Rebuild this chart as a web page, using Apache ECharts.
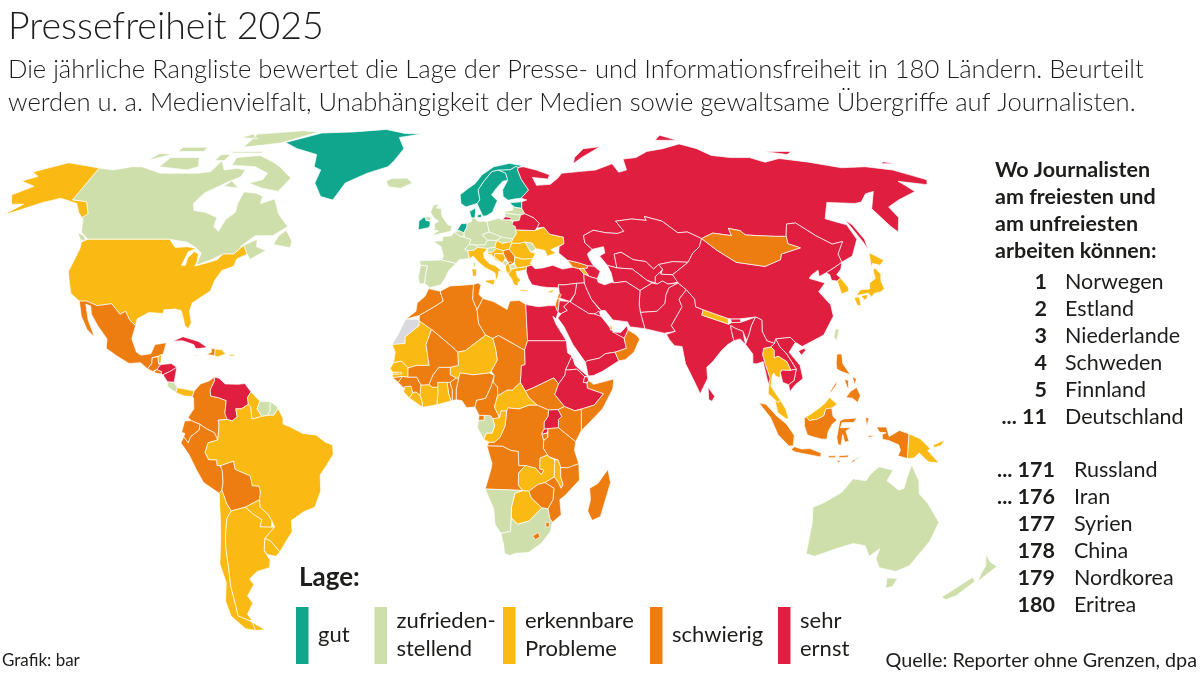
<!DOCTYPE html>
<html lang="de">
<head>
<meta charset="utf-8">
<title>Pressefreiheit 2025</title>
<script src="https://cdn.jsdelivr.net/npm/echarts@6/dist/echarts.min.js"></script>
<style>
  html, body { margin: 0; background: #fff; }
  #chart { width: 1200px; height: 675px; }
</style>
</head>
<body>
<div id="chart"></div>
<script>
// Kategorien
const legendLabels = ['gut', 'zufrieden-\nstellend', 'erkennbare\nProbleme', 'schwierig', 'sehr\nernst'];
const legendColors = ['#10a68d', '#cfdfab', '#fbb913', '#ee7d11', '#e01f40'];
const noDataColor = '#d9d9df';

// Länder je Kategorie
const gut = ['Greenland', 'Ireland', 'Norway', 'Sweden', 'Finland', 'Estonia', 'Netherlands', 'Denmark'];
const zufriedenstellend = ['Canada', 'Iceland', 'UK', 'France', 'Spain', 'Portugal', 'Belgium', 'Germany', 'Switzerland', 'Austria',
  'Poland', 'Czechia', 'Slovakia', 'Slovenia', 'Latvia', 'Lithuania', 'Moldova', 'Montenegro', 'NorthMacedonia',
  'CostaRica', 'Jamaica', 'Suriname', 'FrenchGuiana', 'Gabon', 'Namibia', 'SouthAfrica', 'Taiwan', 'TimorLeste',
  'Australia', 'NewZealand'];
const erkennbareProbleme = ['USA', 'Belize', 'Panama', 'DominicanRepublic', 'Guyana', 'Brazil', 'Paraguay', 'Uruguay',
  'Argentina', 'Chile', 'Italy', 'Croatia', 'Hungary', 'Bosnia', 'Albania', 'Greece', 'Bulgaria', 'Romania', 'Ukraine',
  'Armenia', 'Cyprus', 'Mauritania', 'Niger', 'Senegal', 'Gambia', 'SierraLeone', 'Liberia', 'IvoryCoast', 'Ghana',
  'Congo', 'CentralAfrica', 'Zambia', 'Malawi', 'Botswana', 'Nepal', 'Thailand', 'Malaysia', 'Japan', 'SouthKorea',
  'PapuaNewGuinea', 'Qatar'];
const schwierig = ['Mexico', 'Guatemala', 'ElSalvador', 'Haiti', 'Colombia', 'Ecuador', 'Peru', 'Bolivia', 'Serbia', 'Kosovo',
  'Georgia', 'Morocco', 'Algeria', 'Tunisia', 'Libya', 'Mali', 'Chad', 'SouthSudan', 'Somalia', 'Kenya', 'Burundi',
  'Tanzania', 'DRCongo', 'EquatorialGuinea', 'Cameroon', 'Nigeria', 'Benin', 'Togo', 'BurkinaFaso', 'Guinea',
  'GuineaBissau', 'Angola', 'Mozambique', 'Zimbabwe', 'Lesotho', 'Eswatini', 'Madagascar', 'Mongolia', 'Indonesia',
  'Philippines', 'Oman', 'Israel', 'Lebanon'];
const sehrErnst = ['Russia', 'Belarus', 'Turkey', 'Azerbaijan', 'Kazakhstan', 'Uzbekistan', 'Turkmenistan', 'Kyrgyzstan',
  'Tajikistan', 'Afghanistan', 'Pakistan', 'Iran', 'Iraq', 'Syria', 'Jordan', 'SaudiArabia', 'Yemen', 'UAE', 'Kuwait',
  'India', 'Bhutan', 'Bangladesh', 'SriLanka', 'China', 'NorthKorea', 'Vietnam', 'Laos', 'Cambodia', 'Myanmar',
  'Egypt', 'Sudan', 'Eritrea', 'Ethiopia', 'Djibouti', 'Uganda', 'Rwanda', 'Honduras', 'Nicaragua', 'Cuba', 'Venezuela'];
const keineDaten = ['WesternSahara'];

// Rangliste rechts
const listHeading = ['Wo Journalisten', 'am freiesten und', 'am unfreiesten', 'arbeiten können:'];
const topRanks = ['1', '2', '3', '4', '5', '... 11'];
const topNames = ['Norwegen', 'Estland', 'Niederlande', 'Schweden', 'Finnland', 'Deutschland'];
const bottomRanks = ['... 171', '... 176', '177', '178', '179', '180'];
const bottomNames = ['Russland', 'Iran', 'Syrien', 'China', 'Nordkorea', 'Eritrea'];

// Umrisse: Längengrad, Breitengrad (grob vereinfacht)
const shapes = {
  Greenland: [[-73,78.2,-60,82,-45,82.5,-30,83.6,-20,81.8,-12,81.5,-22,80,-19,76,-22,72,-24,70,-32,68,-40,65,-43,60,-48,61,-52,65,-51,69,-54,70,-56,74,-66,76]],
  Canada: [[-141,69.6,-135,69,-128,70,-124,70,-115,68,-108,68,-100,68,-95,68.5,-94,72,-90,69,-85,69.5,-81.5,69,-82,67,-87,65,-93,62,-94.5,59,-92.5,57,-88,56.5,-82.5,55,-82,52.5,-79.5,51.2,-79,54.5,-77,56.5,-78,59,-78,62.4,-73,62,-70,61,-69.5,59,-65,60.3,-61,56,-56,52.5,-60,50,-66,50,-70,47,-65,49,-64.5,47,-61,46,-65.5,43.6,-67,45,-69,47.3,-71.5,45,-75,45,-79,43.3,-83,42,-82.5,45.3,-84.5,46.5,-88.5,48.2,-95,49,-123,49,-127,51,-130,54.5,-133,56,-130,56,-135,59.5,-141,60],
    [-80,73.7,-72,71.5,-68,70,-62,66.5,-65,62.5,-72,63.5,-78,65,-73,66,-72,68,-78,70,-88,70.5,-89,73],
    [-117,70,-105,69,-101,70,-105,73,-117,73],[-90,76.5,-75,78,-62,82.5,-70,83,-90,81.5],[-125,72,-118,74.2,-124,74.3],
    [-96,75,-80,75,-80,74.5,-92,74.5],[-59,47.6,-53,46.7,-53,48.5,-56,51.5,-58,50],[-128,50.8,-125,50,-123.5,48.5,-125.5,48.9],
    [-117,75,-106,75,-106,76.5,-117,76.5],[-95,80,-87,79.5,-92,81.5],[-87,64,-81,63.5,-85,65.7],[-97,72,-93,72,-93,74,-97,74]],
  USA: [[-123,49,-95,49,-92,46.8,-88,47,-84.7,46.5,-87,45.6,-87.8,42,-86.5,42,-86.5,44,-85,45.7,-83.3,45,-83,43,-83.3,41.8,-79,42.8,-76.5,43.5,-75,45,-71.5,45,-69,47.3,-67,45,-70,43.7,-70.5,41.7,-74,40.6,-75.5,38,-76,35.2,-78,33.9,-81,32,-81.3,29.8,-80,26.8,-80.5,25.2,-81.8,26,-82.8,28,-84,30,-86,30.4,-89.5,30.2,-89.5,29.2,-94,29.5,-97.2,27.8,-97.2,26,-99.5,27.5,-101.5,29.8,-103,29,-106.5,31.8,-111,31.3,-114.8,32.5,-117.1,32.5,-120.5,34.5,-122.5,37.5,-124.3,40.3,-124,46.5,-124.7,48.3],
    [-141,69.6,-141,60,-135,59.5,-130,56,-131,55,-134,56.5,-138,59,-146,60.5,-151,59.3,-153,58.5,-158,56.5,-164,54.7,-160,56,-157.5,58.8,-162,58.8,-166,61.5,-161,64,-168,65.6,-163,67,-166.5,68.4,-156.5,71.3,-148,70.4],
    [-164,54.7,-176,51.6,-176,52,-164,55.2],[-67.2,18.4,-65.7,18.4,-65.7,18,-67.2,18]],
  Mexico: [[-117.1,32.5,-114.8,32.5,-111,31.3,-106.5,31.8,-103,29,-101.5,29.8,-99.5,27.5,-97.2,26,-97.8,22.5,-96,19,-94.5,18.2,-91.5,18.6,-90.5,21,-87,21.5,-87.7,18.5,-89,18,-89.2,17.8,-91,17.5,-91,16,-92.2,14.6,-94.5,16.2,-98,16,-102,18,-105.5,20,-105.5,22.5,-109,26,-112,29,-113,31.2,-114.7,31.7,-112.5,27.5,-110,24,-109.5,23,-112,25,-115,28.5]],
  Guatemala: [[-92.2,14.6,-91,16,-91,17.5,-89.2,17.8,-88.9,15.9,-88.2,15.7,-89.3,14.4,-90.5,13.9]],
  Belize: [[-89.2,17.8,-89,18,-88.2,18.4,-88.2,16.2,-88.9,15.9]],
  ElSalvador: [[-90.1,13.8,-89.3,14.4,-87.8,13.9,-87.8,13.2,-89.5,13.4]],
  Honduras: [[-89.3,14.4,-88.2,15.7,-85,16,-83.2,15,-85,14,-87.3,13,-87.8,13.2,-87.8,13.9]],
  Nicaragua: [[-87.3,13,-85,14,-83.2,15,-83.7,11,-85.7,11.1]],
  CostaRica: [[-85.7,11.1,-83.7,11,-82.6,9.6,-83,8.3,-85.7,9.9]],
  Panama: [[-83,8.3,-82.6,9.6,-80,9.2,-77.4,8.7,-77.9,7.3,-80.4,7.4,-81.5,7.8]],
  Cuba: [[-85,21.9,-82,23.1,-77,21.8,-74.2,20.2,-77.7,19.9,-78.5,21,-82,22]],
  Haiti: [[-74.4,18.4,-71.8,18.1,-71.7,19.8,-73,20,-72.8,19]],
  DominicanRepublic: [[-71.8,18.1,-71,17.7,-68.4,18.5,-69.8,19.7,-71.7,19.8]],
  Jamaica: [[-78.3,18.4,-76.3,18,-77,17.9,-78.3,18.2]],
  Colombia: [[-77.4,8.7,-75.6,10.6,-73,11.4,-71.5,12.4,-71.3,11.5,-72.5,9,-72.3,7.4,-70,7,-67.5,6.2,-67.8,2.8,-67,1.2,-69.8,1,-69.5,-0.5,-70,-4.2,-71,-2.3,-73.5,-1.2,-75.3,-0.1,-78,0.9,-79,1.7,-77.3,4,-77.5,6.8,-77.9,7.3]],
  Venezuela: [[-71.3,11.5,-71.5,12.4,-70,12.1,-68,10.6,-64,10.5,-62,10.7,-60,8.5,-61,7,-60.7,5.2,-62.8,4,-64.5,4,-64,1.9,-65.5,0.8,-67,1.2,-67.8,2.8,-67.5,6.2,-70,7,-72.3,7.4,-72.5,9]],
  Guyana: [[-60,8.5,-57.2,6,-58,4,-56.5,2,-59.5,1.3,-60,4.5,-60.7,5.2,-61,7]],
  Suriname: [[-57.2,6,-54,5.9,-54,3.6,-54.7,2.3,-56.5,2,-58,4]],
  FrenchGuiana: [[-54,5.9,-52,4.7,-51.6,4.1,-52.8,2.3,-54.7,2.3,-54,3.6]],
  Ecuador: [[-78,0.9,-75.3,-0.1,-75.6,-1.6,-78.3,-3.4,-79,-5,-80.4,-3.4,-80,-2.5,-81,-2.2,-80,0.8]],
  Peru: [[-80.4,-3.4,-79,-5,-78.3,-3.4,-75.6,-1.6,-75.3,-0.1,-73.5,-1.2,-71,-2.3,-70,-4.2,-73,-5,-74,-7.5,-73,-9.4,-70.5,-9.5,-70.5,-11,-69.5,-11,-69,-12.5,-69,-15.5,-69.5,-17.5,-70.4,-18.3,-75,-15.5,-77,-12,-79,-8,-81.3,-5]],
  Bolivia: [[-69.5,-11,-65.4,-9.8,-65,-12,-60.5,-13.7,-60,-16.3,-58,-16.4,-57.6,-18,-58,-20,-62.6,-22,-67,-23,-68.3,-21,-69,-19,-69.5,-17.5,-69,-15.5,-69,-12.5]],
  Paraguay: [[-58,-20,-57.9,-22,-55.5,-24,-54.6,-25.6,-55,-27.3,-58.6,-27.2,-57.7,-25.3,-60,-24,-62.6,-22]],
  Uruguay: [[-58.4,-33.5,-57.6,-30.2,-56,-30.8,-53.4,-33.8,-54.9,-35,-57.5,-34.5]],
  Brazil: [[-51.6,4.1,-50,1.5,-50,0,-48,-0.7,-44,-2.5,-40,-2.9,-37,-4.9,-35,-5.5,-34.8,-8,-37,-11,-39,-13.5,-39,-17.7,-41,-22,-44.5,-23.2,-48.5,-25.5,-48.7,-28.5,-51,-31,-53.4,-33.8,-56,-30.8,-57.6,-30.2,-54,-27.2,-54.6,-25.6,-55.5,-24,-57.9,-22,-58,-20,-57.6,-18,-58,-16.4,-60,-16.3,-60.5,-13.7,-65,-12,-65.4,-9.8,-69.5,-11,-70.5,-11,-70.5,-9.5,-73,-9.4,-74,-7.5,-73,-5,-70,-4.2,-69.5,-0.5,-69.8,1,-67,1.2,-65.5,0.8,-64,1.9,-64.5,4,-62.8,4,-60.7,5.2,-60,4.5,-59.5,1.3,-56.5,2,-54.7,2.3,-52.8,2.3]],
  Chile: [[-70.4,-18.3,-69.5,-17.5,-69,-19,-68.3,-21,-67,-23,-68.5,-25,-70,-30,-70.5,-33,-71,-38,-71.8,-43,-72,-48,-72.5,-51,-69.5,-52.2,-68.6,-52.7,-68.6,-55,-72,-54.5,-75,-51,-75,-47,-73,-42,-73.5,-37,-71.5,-30,-70.5,-25]],
  Argentina: [[-67,-23,-62.6,-22,-60,-24,-57.7,-25.3,-58.6,-27.2,-55,-27.3,-54,-27.2,-57.6,-30.2,-58.4,-33.5,-57,-36,-57.7,-38,-62,-39,-65,-41,-64,-42.5,-67,-45.5,-66,-47.5,-69,-50.5,-68.4,-52.2,-69.5,-52.2,-72.5,-51,-72,-48,-71.8,-43,-71,-38,-70.5,-33,-70,-30,-68.5,-25],[-68.6,-52.7,-65.2,-54.8,-68.6,-55]],
  Iceland: [[-24,65.5,-22,66.4,-16,66.5,-13.6,65,-18,63.4,-22.7,63.9]],
  Ireland: [[-10,54,-8.5,55,-7.3,55.2,-7.5,54.2,-6,54,-6,52.8,-6.5,52.2,-10,51.6]],
  UK: [[-5.5,50,-3.5,50.3,1.3,51.2,1.7,52.7,0.3,53,-1.5,55,-2,56,-2,57.6,-4,57.7,-3,58.6,-5,58.6,-6,56.5,-4.8,55,-3,54,-4.5,53.3,-4.3,52,-5.2,51.7,-3,51.3],[-8,55.2,-6,55.2,-5.6,54.5,-6.5,54.1,-7.5,54.4]],
  France: [[2.5,51,1.5,50,-1.5,49.7,-1.5,48.6,-4.7,48.5,-2,47,-1.2,44.5,-1.8,43.4,3,42.5,4,43.5,7.5,43.8,7,45.9,6,46.3,7.6,47.6,8.2,49,6,49.5,4.2,50],[8.6,42.5,9.5,43,9.4,41.5,8.8,41.6]],
  Spain: [[-9.2,43.2,-1.8,43.4,3,42.5,0.5,40.5,-0.3,39,-2,36.8,-5.5,36,-7.3,37.2,-7,39.6,-6.5,41.8,-8.7,42]],
  Portugal: [[-8.7,42,-6.5,41.8,-7,39.6,-7.3,37.2,-8.9,37,-9.4,38.8]],
  Belgium: [[2.5,51,4.2,51.4,5.9,50.8,5.8,49.6,6,49.5,4.2,50]],
  Netherlands: [[3.5,51.4,4.2,51.4,5.9,50.8,7,52.4,7.1,53.4,5,53.3]],
  Germany: [[7.1,53.4,8.8,53.9,8.7,55,9.9,54.8,11,54,14.2,53.9,14.7,51,12.2,50.3,13.8,48.8,13,47.5,10,47.4,7.6,47.6,8.2,49,6,49.5,5.8,49.6,5.9,50.8,7,52.4]],
  Denmark: [[8.7,55,8.2,56.7,10.5,57.7,10.3,56,9.9,54.8],[11,55.7,12.5,56,12.3,55,11,55]],
  Switzerland: [[6,46.3,7.6,47.6,9.6,47.5,10.4,46.8,9,46,7,45.9]],
  Austria: [[9.6,47.5,10,47.4,13,47.5,13.8,48.8,17,48.7,16.2,46.9,13.7,46.5,10.4,46.8]],
  Italy: [[7,45.9,9,46,10.4,46.8,13.7,46.5,12.3,45.3,12.4,44,14,42.5,16,41.9,18.5,40,17,40.5,16.6,38.9,16,38,15.7,40,12.5,41.4,10.3,43,8.8,44.4,7.5,43.8],[12.5,38,15.6,38.2,15.1,36.7,12.5,37.6],[8.2,41,9.7,41,9.6,39.2,8.4,39]],
  Poland: [[14.2,53.9,18.5,54.8,19.7,54.4,23,54.3,24,52.5,24,50.5,22.6,49.1,19,49.4,18.8,49.6,14.7,51]],
  Czechia: [[12.2,50.3,14.7,51,18.8,49.6,17,48.7,13.8,48.8]],
  Slovakia: [[17,48.7,18.8,49.6,19,49.4,22.6,49.1,22.1,48.4,18.8,47.9]],
  Hungary: [[16.2,46.9,17,48.7,18.8,47.9,22.1,48.4,21,46.3,18.8,45.9,16.6,46.5]],
  Slovenia: [[13.7,46.5,16.2,46.9,16.6,46.5,15.3,45.5,13.6,45.5]],
  Croatia: [[13.6,45.5,15.3,45.5,16.6,46.5,18.8,45.9,19,45,16,45.2,15.8,44.2,17.6,43,18.5,42.4,16,43.5,14.8,45,14,44.9]],
  Bosnia: [[16,45.2,19,45,19.5,44,18.5,42.6,17.6,43,15.8,44.2]],
  Serbia: [[18.8,45.9,21,46.3,22.7,44.5,22.4,43,21.5,42.3,20.3,42.8,19.5,44,19,45]],
  Kosovo: [[20.1,42.6,21.2,43,21.7,42.3,20.7,42]],
  Montenegro: [[18.5,42.6,19.3,43.3,20.3,42.8,19.3,41.9,18.5,42.4]],
  Albania: [[19.3,41.9,20.3,42.6,20.7,41.8,21,40.6,20,39.7,19.4,40.5]],
  NorthMacedonia: [[20.7,42,22.4,42.3,23,41.3,21,40.9]],
  Greece: [[21,40.6,21,40.9,23,41.3,26.3,41.7,26,40.8,23.5,40.4,22.7,40.4,23,38.9,24,38,23,37.4,23,36.5,21.7,36.8,21,38.4,20,39.7],[23.6,35.6,26.3,35.3,26,35,23.6,35.2]],
  Bulgaria: [[22.7,44.2,25,43.7,28.6,43.8,27.6,42.5,28,42,26.3,41.7,23,41.3,22.4,42.3,22.4,43]],
  Romania: [[21,46.3,22.1,48,24.5,47.9,26.6,48.3,28.2,45.5,29.7,45.2,28.6,43.8,25,43.7,22.7,44.3]],
  Moldova: [[26.6,48.3,29,48,30,46.4,28.2,45.5]],
  Ukraine: [[22.1,48.4,22.6,49.1,24,50.5,24,51.6,30.5,51.4,34,52.3,35.5,50.4,40,49.6,39.8,47.8,35,46.2,36.5,45.3,33.5,44.4,33,46,30.7,46.4,30,46.4,29,48,26.6,48.3,24.5,47.9,22.1,48]],
  Estonia: [[23.5,59.2,28,59.5,27.5,57.6,25,57.9,24.4,58.3]],
  Latvia: [[21,56.8,24,57.1,24.4,58.3,25,57.9,27.5,57.6,28.2,56.1,26.6,55.7,21,56.3]],
  Lithuania: [[21,56.3,26.6,55.7,25.7,54.2,23.5,54,21,55.2]],
  Belarus: [[23.5,54,25.7,54.2,26.6,55.7,28.2,56.1,31,55,32.7,53.4,31.5,52.1,30.5,51.4,24,51.6,24,52.5,23,53]],
  Finland: [[20.6,69,23.5,68,24,65.8,21.5,63,21.3,61,23,59.9,25.5,60.3,28,60.5,31.5,62.9,29.5,66,28.5,69,29,69.8,28,70.1,25.5,69.1]],
  Sweden: [[11.2,59,12.9,55.4,14.3,55.5,16.5,56.5,18.9,59.8,17,61.5,19,63.3,22,65.5,24,65.8,23.5,68,20.6,69,18,68.5,14.5,65.5,12,63,12.3,60]],
  Norway: [[5,61.5,5.2,59,7,58,11.2,59,12.3,60,12,63,14.5,65.5,18,68.5,20.6,69,25.5,69.1,28,70.1,29,69.8,31,70.3,25.8,71.1,19,70,14,67.5,11,64.8,8,63.3]],
  Turkey: [[26,40.3,26.3,41.7,28,42,29,41.1,31.5,41.3,35,42,38,41,41.5,41.5,43.6,41.1,44.8,39.7,44.5,37.3,42,37.2,38,36.8,36,36.8,36,36,32.5,36.1,30.5,36.3,27.5,36.8,26.5,38.5]],
  Cyprus: [[32.4,35,34.5,35.6,33.7,34.7,32.7,34.7]],
  Georgia: [[40,43.4,43.6,42.7,46.5,41.9,46.2,41.2,43.6,41.1,41.5,41.5]],
  Armenia: [[43.6,41.1,45,41.2,46.5,39,44.8,39.7]],
  Azerbaijan: [[46.2,41.2,46.5,41.9,48.5,41.8,50.3,40.4,48.9,38.4,46.5,39,45,41.2]],
  Russia: [[28,60.5,30,60,28,59.5,27.5,57.6,28.2,56.1,31,55,32.7,53.4,31.5,52.1,34,52.3,35.5,50.4,40,49.6,39.8,47.8,38,47,37.5,45.3,40,43.4,43.6,42.7,46.5,41.9,48.5,41.8,47.5,43.5,47,45,49,46.3,47,48,47,50,51,51.5,55,50.8,59,50.6,61.5,51.2,60,54,66,54.6,71,54.2,71,55.3,76.5,54,80,50.8,83.5,51,87.3,49.2,92,50.7,98,50,98.5,52,102,51.4,103,50.2,107,50,113,49.8,116.7,49.8,120,53.2,123.5,53.5,127,50,131,47.7,135,48.4,131,45,131,42.8,132,43.2,135.5,44.5,140.4,49,141,53,137.5,54,135.3,54.7,142,59.3,152,59,155,59.4,160,61.8,164,62.5,156,57.5,156,52.5,156.7,51,162,55,163,58,170,60,180,62.5,179,64.5,178,65.5,188,64.5,190,66,185,67.5,180,69,170,70,160,69.7,150,71.5,140,72.7,132,71.5,128,73,120,73,113,73.7,110,76,104.3,77.7,95,76,87,75,80,73,74,72.5,72.5,69,69,68.3,68,71,60,69,53,68.5,46,68,44,66.5,40.5,64.6,35,64.3,34,66.7,40,66.2,41,67.5,36,69,31,70,29,69.8,28.5,69,29.5,66,31.5,62.9],
    [19.7,54.4,23,54.4,22.8,55,21,55.2],[142,54.3,143,53,143,49,142,46,142,48,141.8,52],[52,71,57,73,68,76.7,60,76,54,73],[95,79,105,79,100,81],[138,75,150,75,146,74],[179,71,185,71,181,71.6]],
  Kazakhstan: [[47,50,51,51.5,55,50.8,59,50.6,61.5,51.2,60,54,66,54.6,71,54.2,71,55.3,76.5,54,80,50.8,83.5,51,87.3,49.2,85.5,47,82.5,45.3,80,42.8,75,43,70,42.2,68,41,66,43,62,43.5,58.5,45.5,56,45,56,41.3,53,42,51,44.5,53,45.3,53,47,49,46.3,47,48]],
  Uzbekistan: [[56,45,58.5,45.5,62,43.5,66,43,68,41,70,42.2,71,41,70,40.2,68,39,67.5,37.3,65,38,61,41,56,41.3]],
  Turkmenistan: [[53,42,56,41.3,61,41,65,38,66.5,37.3,62,35.3,58,37.7,54,37.3,53.8,40]],
  Kyrgyzstan: [[70,42.2,75,43,80,42.8,73.8,39.5,70,39.6,71,41]],
  Tajikistan: [[67.5,37.3,68,39,70,40.2,70,39.6,73.8,39.5,75,37.5,71.5,37,70,37.8,68,37]],
  Afghanistan: [[62,35.3,66.5,37.3,68,37,70,37.8,71.5,37,74.9,37.3,71.5,36,70,34,69.3,31.9,66.3,29.8,61,29.5,61,31.5]],
  Pakistan: [[61,29.5,66.3,29.8,69.3,31.9,70,34,71.5,36,74.9,37.3,77,35.5,74,33,74.5,31,70,26,71,24.5,67.5,24,61.6,25.2]],
  Iran: [[44.8,39.7,46.5,39,48.9,38.4,49,37.5,51,36.8,53.5,37.5,54,37.3,58,37.7,62,35.3,61,31.5,61,29.5,61.6,25.2,57,25.7,56.5,27,52,27.5,50,30,48.7,30,46,33,44.8,36,44.5,37.3]],
  Iraq: [[42,37.2,44.5,37.3,44.8,36,46,33,48,30.5,48.7,30,48,29.5,46.5,29.1,44.7,29.2,39.2,32.2,41,34.4]],
  Syria: [[36,36.8,38,36.8,42,37.2,41,34.4,39,32.4,36,33.3,36,34.6,36,36]],
  Lebanon: [[35.1,33.1,35.9,34.6,36.6,34.2,35.8,33.2]],
  Israel: [[34.3,31.3,35.1,33.1,35.8,33.2,35.5,31.5,35,29.5]],
  Jordan: [[35,29.5,35.5,31.5,35.8,32.6,39,32.4,37,31,38,30,36,29.2]],
  SaudiArabia: [[36,29.2,38,30,37,31,39,32.4,44.7,29.2,46.5,29.1,48.4,28.5,50,26.5,51.5,24.5,55,22.7,55.5,20,52,19,49,18.6,47,17.4,43.2,16.7,42.7,16.3,39,21,36.5,25.7,34.8,28]],
  Yemen: [[43.2,16.7,47,17.4,49,18.6,52,19,53,16.7,48,14,45,12.8,43.4,12.7,42.7,16.3]],
  Oman: [[52,19,55.5,20,55,22.7,56.3,24.9,58.7,23.6,59.8,22.5,57.8,19,55,17,53,16.7]],
  UAE: [[51.5,24.3,55,22.7,56.3,24.9,56.2,26,54,24.2]],
  Qatar: [[50.8,24.8,51.6,25.2,51.3,26.1,50.9,25.9]],
  Kuwait: [[46.5,29.1,48.4,28.5,48,29.9,47.7,30]],
  India: [[77,35.5,79,33,78.8,31,81,30.2,80.2,28.8,88,26.4,89,26.8,92,26.9,97,28.3,95,26,94,24,93,22,92,24.5,89.8,25.3,88.5,26,88.5,24.4,89,22,87,21,85,19.5,82,16.5,80,15,80,12,77.5,8,76,11,73.5,16,72.8,20.5,70.5,20.7,69,22.3,68.2,23.7,71,24.5,70,26,74.5,31,74,33]],
  Nepal: [[80.2,28.8,81,30.2,88.2,27.9,88,26.4]],
  Bhutan: [[89,26.8,89,27.8,92,27.8,92,26.9]],
  Bangladesh: [[88.5,26,89.8,25.3,92,24.5,92.5,21,91,22.5,89,22,88.5,24.4]],
  SriLanka: [[80,9.7,81.9,7.3,81,6,80,6.5]],
  China: [[73.8,39.5,80,42.8,82.5,45.3,85.5,47,87.3,49.2,91,46,96,42.8,105,41.7,111,43.5,112,45,119.5,46.7,116,47.8,116.7,49.8,120,53.2,123.5,53.5,127,50,131,47.7,135,48.4,131,45,131,42.8,128,41.5,124.3,40,121.5,39,122,40.7,119,39.3,118,38.5,122.5,37.3,119.3,35,121.8,31.5,121.5,28.5,117,23.5,113.5,22,110,20.5,108,21.6,106.6,22.9,102,22.5,101.5,21.3,99.2,22,98,24.5,98.7,27.5,97,28.3,92,27.8,89,27.8,88.2,27.9,81,30.2,78.8,31,79,33,77,35.5,74.9,37.3,75,37.5],[108.7,19.3,110.5,20,111,19.5,109.5,18.2]],
  Mongolia: [[87.3,49.2,92,50.7,98,50,98.5,52,102,51.4,103,50.2,107,50,113,49.8,116.7,49.8,116,47.8,119.5,46.7,112,45,111,43.5,105,41.7,96,42.8,91,46]],
  NorthKorea: [[124.3,40,128,41.5,131,42.8,129.7,41,127.5,39.5,128.3,38.6,126.7,37.8,125,38,125.2,39.5]],
  SouthKorea: [[126.7,37.8,128.3,38.6,129.4,36,129,35.1,126.4,34.4,126.6,36.8]],
  Japan: [[130.9,34,133,35.5,136,35.7,137,37.3,139.5,38.5,140,40.5,141,41.4,142,39.6,141,38,140.8,35.7,139,34.9,136.8,34.5,135.7,33.5,135,34.6,132.5,34.2],[140,41.5,141.7,45.4,145.3,43.4,143.2,42,141,42.5],[130,33.4,131.7,33.6,131.4,31.4,130.2,31.3],[132.4,33.9,134.5,34.2,134.2,33.3,133,32.8]],
  Taiwan: [[121,25.2,122,25,120.9,22,120.1,23]],
  Vietnam: [[102,22.5,106.6,22.9,108,21.6,105.8,19,108.8,15.5,109.3,12,106.8,10.4,105,8.6,104.7,10.4,106.5,11.5,107.5,14.5,105,18.5,103,20.5]],
  Laos: [[101.5,21.3,102,22.5,103,20.5,105,18.5,107.5,14.5,105.8,14.2,104.8,16.5,102.3,17.9,101,17.5,101.2,19.5,100.3,20.4]],
  Cambodia: [[102.5,13.6,103,14.3,105.8,14.2,107.5,14.5,106.5,11.5,104.7,10.4,103,11]],
  Thailand: [[97.5,18.3,98,20,100.3,20.4,101.2,19.5,101,17.5,102.3,17.9,104.8,16.5,105.8,14.2,103,14.3,102.5,13.6,102.3,12.2,100.9,12.7,100.5,13.5,100,13,99.3,10,100.3,8.5,102,6.2,101,5.7,100.2,6.5,98.3,8,98.7,11,99.2,12,98.3,15]],
  Myanmar: [[92.5,21,93,22,94,24,95,26,97,28.3,98.7,27.5,98,24.5,99.2,22,101.5,21.3,100.3,20.4,98,20,97.5,18.3,98.3,15,99.2,12,98.7,11,98.6,10,98,13.5,97.5,16.5,95.5,15.9,94.3,16,94.5,18.5]],
  Malaysia: [[100.2,6.5,101,5.7,102,6.2,103.4,4,104.2,1.4,103.4,1.4,101,3],[109.6,1.9,111.3,2.8,113.8,4.3,115.5,5.5,117,7,119.2,5.2,117.5,4.2,115.7,4,115,2.2,113,1.3,110.5,0.9]],
  Indonesia: [[109,1.5,109.6,1.9,110.5,0.9,113,1.3,115,2.2,115.7,4,117.5,4.2,117.8,2,119,1,117.5,0,116.3,-2,116,-4,114.5,-4,111.7,-3.4,110,-2.9,109,-0.5],
    [95.3,5.6,97.5,5.2,100.5,2.2,103.5,0,106,-3,105.8,-5.8,104.5,-5.8,101,-2.8,98.7,1.7],
    [105.2,-6.8,106.2,-6,108.5,-6.6,111,-6.5,114.5,-7.7,114.4,-8.7,110,-8,106.5,-7.4],
    [119.5,-5.5,119,-3.5,119.8,0.8,121,1.3,125,1.6,124,0.4,120.5,0.4,120,-1,123.3,-0.9,121.7,-1.9,122.8,-4.5,121.5,-4.8,120.8,-2.8,120.4,-5.6],
    [131,-0.8,134,-0.8,135,-3.3,138,-1.7,141,-2.6,141,-9.1,138,-8.4,138.7,-7,138,-5.5,135,-4.4,133,-4,132.8,-2.8,134,-2.3,132,-2.2],
    [127.7,1.8,128,-0.7,128.7,1.5],[128,-3,130.8,-3.2,129,-3.5],[116.8,-8.4,119,-8.4,119,-8.9,116.8,-8.9],[120,-8.4,123,-8.2,122.8,-8.8,120,-8.9],[123.5,-10.3,125,-9.2,125,-9.9],[119.2,-9.5,120.8,-9.8,120,-10.2]],
  TimorLeste: [[125,-9,127.3,-8.4,125.2,-9.5]],
  PapuaNewGuinea: [[141,-2.6,144.5,-3.9,147,-5.9,147.8,-6.7,147,-7,150.8,-10.3,147.5,-10,144.5,-7.7,143,-9,141,-9.1],[148.5,-5.6,152,-4.2,151,-5.7,149,-6.2]],
  Philippines: [[120.5,18.5,122,18.5,122,16,124,13,121.5,13.8,120,14.5,120,16.2],[122,7,123.5,8.6,125.5,9.7,126.5,7.5,125.5,5.7,124,6.8],[124.5,12.5,125.7,12,125,10.2],[122,11.8,123.2,11.5,123,9.2,122.5,10],[117.2,8.4,119.5,11.3,119.3,10.3,117.5,8.3]],
  Australia: [[113.5,-22,114,-26,115,-34.3,118,-35,124,-33,129,-31.6,133,-32.2,135.5,-35,138,-33,138,-35.6,140.5,-38,146.5,-39,150,-37.5,153,-31,153.5,-26,149,-21,146,-18.5,145.3,-15,142.5,-10.8,141.6,-14,141,-17,139.5,-17.5,135.5,-15,137,-12.2,132.5,-11.3,130,-13.5,129,-15,125,-14.5,122,-18,117,-20.7],[144.7,-40.7,148.3,-40.9,147.9,-43,146,-43.5]],
  NewZealand: [[172.7,-34.5,175.5,-36.5,178.5,-37.7,177,-39.5,175.3,-41.6,174.8,-39.8,174.7,-37.5],[172.7,-40.5,174.3,-41.7,171,-45.5,168.5,-46.6,166.5,-45.8,170.5,-42.5]],
  Morocco: [[-5.9,35.8,-2.2,35.1,-1.2,32.5,-4,31,-8.7,28.7,-13,27.7,-9.8,29.8,-9.5,32,-7,33.8]],
  WesternSahara: [[-8.7,27.7,-13,27.7,-15,24,-17,21,-13,21.3,-13,23,-8.7,26]],
  Mauritania: [[-17,21,-13,21.3,-13,23,-8.7,26,-8.7,27.3,-4.8,25,-6.5,21,-5.5,15.5,-9.3,15.5,-12,14.8,-14,16.6,-16.5,16.2,-16,19]],
  Algeria: [[-2.2,35.1,1,36.5,8.6,36.9,8.2,33,9.5,30.2,9.9,26.5,12,23.5,5.7,19.4,3.3,19,1.2,20.7,-4.8,25,-8.7,27.3,-8.7,28.7,-4,31,-1.2,32.5]],
  Tunisia: [[8.6,36.9,10,37.3,11,36.8,10.2,34.3,11.5,33.2,9.5,30.2,8.2,33]],
  Libya: [[11.5,33.2,15,32.3,19,30.3,20,32.5,23,32.7,25,31.6,25,22,24,19.5,16,23.4,14.2,22.6,12,23.5,9.9,26.5,9.5,30.2]],
  Egypt: [[25,31.6,29,31,32.3,31.3,34.3,31.3,35,29.5,34.2,27.8,33.3,28.5,34,26.5,37,22,25,22]],
  Sudan: [[24,19.5,25,22,37,22,37.3,18.8,38.6,18,36.5,14.3,36.3,13,34.2,10.6,32.8,12.2,27,9.8,24,8.7,22.5,11,22.9,15.5,24,15.7]],
  SouthSudan: [[24,8.7,27,9.8,32.8,12.2,34.2,10.6,33,7.8,35.9,4.6,33.9,3.8,31,3.7,27.5,5,25,7]],
  Eritrea: [[36.5,14.3,38.6,18,39.5,15.5,43.1,12.7,42.3,12.5,40,14.5,37.5,14.3]],
  Ethiopia: [[36.3,13,36.5,14.3,37.5,14.3,40,14.5,42.3,12.5,41.8,11,43,10.8,43,9.5,47.9,8,45,5,42,4.2,39,3.5,35.9,4.6,33,7.8,34.2,10.6]],
  Djibouti: [[42.3,12.5,43.3,12.4,43.4,11.5,42.8,11,41.8,11]],
  Somalia: [[41,-1.7,41,3.9,42,4.2,45,5,47.9,8,43,9.5,43,10.8,43.4,11.5,45,10.5,51.2,11.9,50.8,9.3,47.5,4,43,0]],
  Kenya: [[35.9,4.6,39,3.5,41,3.9,41,-1.7,39.3,-4.7,34,-1,34,1.2,35,2,33.9,3.8]],
  Uganda: [[31,3.7,33.9,3.8,35,2,34,1.2,34,-1,29.6,-1.4,29.6,0.5,30.8,2]],
  Rwanda: [[28.9,-2.5,29.6,-1.4,30.8,-1.2,30.5,-2.4,29,-2.7]],
  Burundi: [[29,-2.7,30.5,-2.4,30.8,-3.5,29.5,-4.4]],
  Tanzania: [[34,-1,39.3,-4.7,39,-7,40.4,-10.5,37,-11.6,34.9,-11.5,34,-9.5,31,-8.6,29.5,-6.5,29.5,-4.4,30.8,-3.5,30.8,-1.2]],
  DRCongo: [[12.2,-5.8,12.8,-4.8,14.5,-4.8,16.2,-3.5,17.7,-0.5,18.2,3.5,18.6,4.3,22,4,25,5,27.5,5,31,3.7,30.8,2,29.6,0.5,29.6,-1.4,28.9,-2.5,29,-2.7,29.5,-4.4,29.5,-6.5,30.8,-8.2,28.5,-9,28.5,-11.8,29.8,-12.2,29,-13.4,27.2,-11.7,24,-11,22,-11,21.8,-7.3,19.5,-7,17,-5.9]],
  Congo: [[11.2,-4,12.8,-4.8,14.5,-4.8,16.2,-3.5,17.7,-0.5,18.2,3.5,16.5,3.5,16,1.7,14,1.4,14.5,-0.5,13.8,-2.4,12,-2.4]],
  Gabon: [[9.3,-1,9.6,1,11.3,1,11.3,2.3,13.3,2.2,14,1.4,14.5,-0.5,13.8,-2.4,12,-2.4,11.2,-4]],
  EquatorialGuinea: [[9.6,1,9.8,2.3,11.3,2.3,11.3,1]],
  Cameroon: [[9.8,2.3,8.5,4.5,9,6.3,11.8,6.8,13.5,10,14.5,12.9,14.2,11,15.5,9.8,15.5,7.5,14.5,4.5,16,1.7,14,1.4,13.3,2.2,11.3,2.3]],
  CentralAfrica: [[14.5,4.5,15.5,7.5,18.5,9,20,9,22.5,11,24,8.7,25,7,27.5,5,25,5,22,4,18.6,4.3,18.2,3.5,16.5,3.5,16,1.7]],
  Chad: [[14.2,22.6,16,23.4,24,19.5,24,15.7,22.9,15.5,22.5,11,20,9,18.5,9,15.5,7.5,15.5,9.8,14.2,11,14.5,12.9,13.6,14,15.5,16.9,15,20]],
  Niger: [[5.7,19.4,12,23.5,14.2,22.6,15,20,15.5,16.9,13.6,14,13,13.5,8,13,4,13.5,3.5,11.8,2.8,12.2,1,13,1,15,3.5,15.5,3.3,19]],
  Nigeria: [[2.8,6.4,2.8,9,3.5,11.8,4,13.5,8,13,13,13.5,14.5,12.9,13.5,10,11.8,6.8,9,6.3,8.5,4.5,6,4.3,4.5,6.2]],
  Benin: [[1.6,6.2,2.8,6.4,2.8,9,3.5,11.8,2.8,12.2,0.9,11,1.6,9]],
  Togo: [[1.2,6.1,1.6,6.2,1.6,9,0.9,11,0,11,0.5,8]],
  Ghana: [[-3.1,5.1,1.2,6.1,0.5,8,0,11,-2.9,11,-2.8,8]],
  BurkinaFaso: [[-5.5,10.4,-5.3,11,-4.3,13,-2.5,15,0,15,1,15,1,13,2.8,12.2,0.9,11,0,11,-2.9,11,-2.8,9.7,-4.5,9.7]],
  IvoryCoast: [[-7.5,4.4,-3.1,5.1,-2.8,8,-2.8,9.7,-4.5,9.7,-5.5,10.4,-8,10.3,-8.3,7.6,-7.5,5.5]],
  Liberia: [[-11.5,6.9,-7.5,4.4,-7.5,5.5,-8.3,7.6,-9.5,8.5,-10.5,8.3]],
  SierraLeone: [[-13.3,8.5,-12.9,9.9,-11,10,-10.5,8.3,-11.5,6.9]],
  Guinea: [[-15,11,-13.7,12.6,-12,12.4,-9.3,12.4,-8,10.3,-8.3,7.6,-9.5,8.5,-10.5,8.3,-11,10,-12.9,9.9,-13.3,9.5]],
  GuineaBissau: [[-16.7,12.3,-13.7,12.6,-15,11]],
  Senegal: [[-17.5,14.7,-16.5,16.2,-14,16.6,-12,14.8,-12,12.4,-13.7,12.6,-16.7,12.3,-16.8,13.2,-15,13.2,-15,13.7,-16.7,13.7]],
  Gambia: [[-16.8,13.2,-14,13.2,-14,13.7,-16.7,13.6]],
  Mali: [[-12,14.8,-9.3,15.5,-5.5,15.5,-6.5,21,-4.8,25,1.2,20.7,3.3,19,3.5,15.5,1,15,0,15,-2.5,15,-4.3,13,-5.3,11,-5.5,10.4,-8,10.3,-9.3,12.4,-12,12.4]],
  Angola: [[11.8,-17.2,13.5,-12,13.8,-10.5,12.2,-5.8,17,-5.9,19.5,-7,21.8,-7.3,22,-11,24,-11,22,-13,22,-16.2,23.4,-17.6,18.5,-17.4]],
  Zambia: [[22,-13,24,-11,27.2,-11.7,29,-13.4,29.8,-12.2,28.5,-11.8,28.5,-9,30.8,-8.2,31,-8.6,33,-9.5,33,-14,30.2,-15.5,28,-16,25.3,-17.8,23.4,-17.6,22,-16.2]],
  Malawi: [[33,-9.5,34,-9.5,34.9,-11.5,35,-14,35.8,-16,35.2,-17,34.3,-15.5,33,-14]],
  Mozambique: [[40.4,-10.5,40.8,-14.8,36.5,-18.9,34.9,-20,35.5,-24,32.9,-26,31.9,-25,31.3,-22.4,32.8,-20,33,-17,30.2,-15.5,33,-14,34.3,-15.5,35.2,-17,35.8,-16,35,-14,34.9,-11.5,37,-11.6]],
  Zimbabwe: [[25.3,-17.8,28,-16,30.2,-15.5,33,-17,32.8,-20,31.3,-22.4,29.4,-22.2,26,-19.5]],
  Botswana: [[20,-22,20,-24.8,22,-26.5,25.5,-25.7,29.4,-22.2,26,-19.5,25.3,-17.8,23.4,-17.6,21,-18.3]],
  Namibia: [[11.8,-17.2,18.5,-17.4,23.4,-17.6,21,-18.3,20,-22,20,-28.4,17,-28.9,15,-26.5,14.5,-22.5]],
  SouthAfrica: [[17,-28.9,20,-28.4,20,-24.8,22,-26.5,25.5,-25.7,29.4,-22.2,31.3,-22.4,32,-25,32.9,-26,32.5,-28.5,30,-31.5,26,-34,22,-34.2,20,-34.8,18.4,-34.2,18,-32]],
  Lesotho: [[27,-29.6,28.7,-28.7,29.4,-29.8,28,-30.6]],
  Eswatini: [[30.8,-26,32,-26,32,-27.2,31,-27.3]],
  Madagascar: [[49.4,-12,50.4,-15.5,47.7,-24.5,45.2,-25.5,43.7,-23,44.4,-20,44,-17,46.5,-15.7]]
};

// Projektion (an die Vorlage angepasst, ähnlich Robinson)
const latSteps = [0, 5, 10, 15, 20, 25, 30, 35, 40, 45, 50, 55, 60, 65, 70, 75, 80, 85, 90];
const yFactor = [0, .062, .124, .186, .248, .31, .372, .434, .4958, .5571, .6176, .6769, .7346, .7903, .8435, .8936, .9394, .9761, 1];
const xFactor = [1, .998, .995, .99, .985, .98, .965, .95, .93, .91, .885, .85, .81, .775, .75, .7, .66, .6, .55];
const lookup = (table, lat) => {
  const a = Math.min(Math.abs(lat), 89.99);
  const i = Math.floor(a / 5);
  return table[i] + (table[i + 1] - table[i]) * (a - i * 5) / 5;
};
const projection = {
  project: ([lon, lat]) => [
    447 + lon * 3.28 * lookup(xFactor, lat),
    424 - Math.sign(lat) * 305 * lookup(yFactor, lat)
  ],
  unproject: ([x, y]) => {
    const v = Math.abs(424 - y) / 305;
    let i = 0;
    while (i < 17 && yFactor[i + 1] < v) i++;
    const lat = Math.sign(424 - y) * (latSteps[i] + 5 * (v - yFactor[i]) / (yFactor[i + 1] - yFactor[i]));
    return [(x - 447) / (3.28 * lookup(xFactor, lat)), lat];
  }
};

// GeoJSON aus den Umrissen bauen
const toRing = (flat) => {
  const ring = [];
  for (let i = 0; i < flat.length; i += 2) ring.push([flat[i], flat[i + 1]]);
  ring.push(ring[0]);
  return ring;
};
const worldGeo = {
  type: 'FeatureCollection',
  features: Object.keys(shapes).map((name) => ({
    type: 'Feature',
    properties: { name },
    geometry: { type: 'MultiPolygon', coordinates: shapes[name].map((flat) => [toRing(flat)]) }
  }))
};
echarts.registerMap('world', worldGeo);

// Ausdehnung in Pixeln, damit die Karte genau dort liegt, wo projiziert wird
let minX = Infinity, minY = Infinity, maxX = -Infinity, maxY = -Infinity;
worldGeo.features.forEach((f) => f.geometry.coordinates.forEach((poly) => poly[0].forEach((p) => {
  const [x, y] = projection.project(p);
  minX = Math.min(minX, x); maxX = Math.max(maxX, x);
  minY = Math.min(minY, y); maxY = Math.max(maxY, y);
})));

const mapData = [];
[gut, zufriedenstellend, erkennbareProbleme, schwierig, sehrErnst].forEach((list, idx) => {
  list.forEach((name) => mapData.push({ name, value: idx, itemStyle: { areaColor: legendColors[idx] } }));
});
keineDaten.forEach((name) => mapData.push({ name, value: -1, itemStyle: { areaColor: noDataColor } }));

const FONT = 'Lato, "Noto Sans", sans-serif';
const INK = '#1d1d1b';
const text = (x, y, str, opts = {}) => ({
  type: 'text',
  x,
  y,
  silent: true,
  style: {
    text: str,
    fontFamily: FONT,
    fontSize: opts.size || 20,
    fontWeight: opts.weight || 400,
    fill: INK,
    align: opts.align || 'left',
    verticalAlign: 'middle',
    lineHeight: opts.lineHeight
  }
});

const graphics = [
  text(8, 27, 'Pressefreiheit 2025', { size: 37.5, weight: 300 }),
  text(8, 70, 'Die jährliche Rangliste bewertet die Lage der Presse- und Informationsfreiheit in 180 Ländern. Beurteilt', { size: 25.6, weight: 300 }),
  text(8, 103, 'werden u. a. Medienvielfalt, Unabhängigkeit der Medien sowie gewaltsame Übergriffe auf Journalisten.', { size: 25.6, weight: 300 }),
  text(299, 578, 'Lage:', { size: 26, weight: 700 }),
  text(2, 661, 'Grafik: bar', { size: 17 }),
  text(1197, 661, 'Quelle: Reporter ohne Grenzen, dpa', { size: 19.8, align: 'right' })
];

// Legende
const legendX = [296, 374.5, 503, 650, 778];
legendLabels.forEach((label, i) => {
  graphics.push({
    type: 'rect',
    silent: true,
    shape: { x: legendX[i], y: 607, width: 12.5, height: 57 },
    style: { fill: legendColors[i] }
  });
  graphics.push(text(legendX[i] + 22, 635, label, { size: 22, lineHeight: 28 }));
});

// Rangliste
listHeading.forEach((line, i) => graphics.push(text(995, 170 + i * 27, line, { size: 21.5, weight: 700 })));
topRanks.forEach((rank, i) => {
  graphics.push(text(1047, 282 + i * 27, rank, { size: 21.5, weight: 700, align: 'right' }));
  graphics.push(text(1065, 282 + i * 27, topNames[i], { size: 21.5 }));
});
bottomRanks.forEach((rank, i) => {
  graphics.push(text(1055, 470 + i * 27, rank, { size: 21.5, weight: 700, align: 'right' }));
  graphics.push(text(1074, 470 + i * 27, bottomNames[i], { size: 21.5 }));
});

const chart = echarts.init(document.getElementById('chart'), null, { renderer: 'canvas' });
chart.setOption({
  animation: false,
  backgroundColor: '#fff',
  series: [{
    type: 'map',
    map: 'world',
    projection,
    left: minX,
    top: minY,
    width: maxX - minX,
    height: maxY - minY,
    roam: false,
    silent: true,
    label: { show: false },
    itemStyle: { borderColor: '#fff', borderWidth: 0.7, areaColor: noDataColor },
    emphasis: { disabled: true },
    select: { disabled: true },
    data: mapData
  }],
  graphic: graphics
});
</script>
</body>
</html>
